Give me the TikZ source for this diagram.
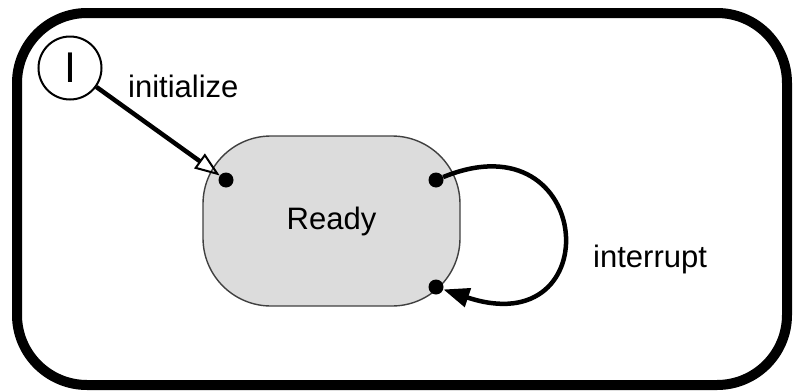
\documentclass[tikz,border=0pt]{standalone}
\usepackage{fontspec}
\setmainfont{Liberation Sans}
\usepackage{tikz}
\usetikzlibrary{arrows.meta}
\definecolor{stategray}{RGB}{220,220,220}
\tikzset{
  state/.style={draw=black!75,line width=1.4pt,fill=stategray,rounded corners=68pt,
    minimum width=257pt,minimum height=170pt,font=\fontsize{31}{36}\selectfont},
  pin/.style={circle,fill=black,inner sep=0pt,minimum size=15pt},
  initial/.style={circle,draw,line width=2pt,minimum size=63pt,inner sep=0pt,
    font=\fontsize{43}{48}\selectfont},
  lbl/.style={font=\fontsize{31}{36}\selectfont,inner sep=0pt,anchor=base west},
  trans/.style={line width=4.5pt}
}
\begin{document}
\begin{tikzpicture}[x=1pt,y=-1pt]
  \useasboundingbox (0,0) rectangle (793,391);
  \draw[line width=10pt,rounded corners=70pt] (17,13) rectangle (787,385);
  \node[state] (ready) at (331.5,221) {Ready};
  \node[initial] (init) at (70,68) {I};
  \node[pin] (in) at (226,180) {};
  \node[pin] (out) at (436,180) {};
  \node[pin] (back) at (436,287) {};
  \node[lbl] (initlbl) at (128,97) {initialize};
  \node[lbl] (intlbl) at (593,267) {interrupt};
  \draw[trans,-{Triangle[open,length=25pt,width=18pt,line width=2pt]}] (init) -- (in);
  \draw[trans,-{Triangle[length=26pt,width=19pt]}]
    (out) .. controls (595,115) and (610,345) .. (back);
\end{tikzpicture}
\end{document}
